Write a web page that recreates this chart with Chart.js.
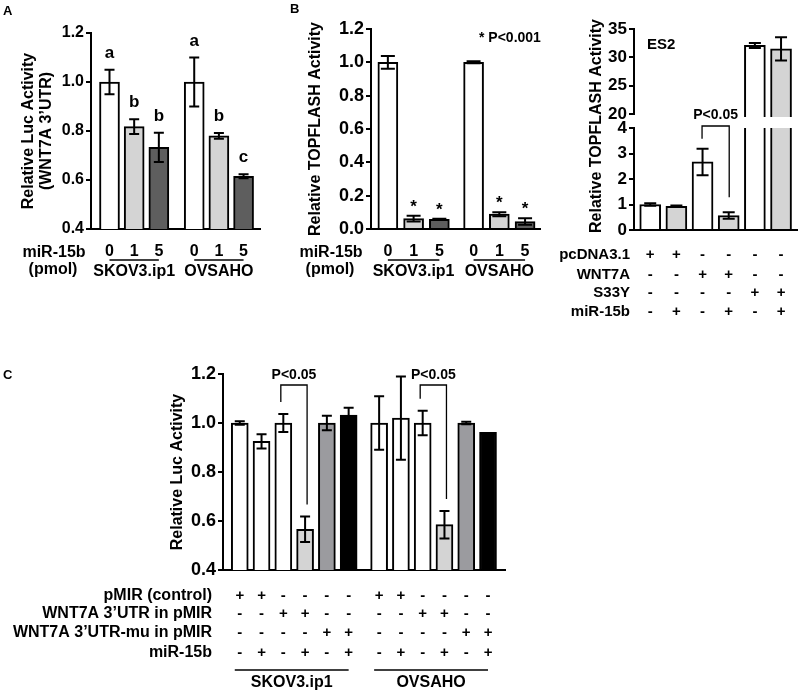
<!DOCTYPE html>
<html>
<head>
<meta charset="utf-8">
<script src="https://cdn.jsdelivr.net/npm/chart.js@4.4.0/dist/chart.umd.min.js"></script>
<style>
  html, body { margin: 0; padding: 0; background: #fff; }
  #fig { position: relative; width: 800px; height: 694px; overflow: hidden; background: #fff; }
  #fig canvas { position: absolute; }
</style>
</head>
<body>
<div id="fig">
  <canvas id="chartA" width="275" height="295" style="left:0;top:0"></canvas>
  <canvas id="chartB" width="280" height="295" style="left:275px;top:0"></canvas>
  <canvas id="chartES2hi" width="245" height="340" style="left:555px;top:0"></canvas>
  <canvas id="chartES2lo" width="245" height="340" style="left:555px;top:0"></canvas>
  <canvas id="chartC" width="520" height="364" style="left:0;top:330px"></canvas>
</div>
<script>
// ---- data ----
const cellLines = ['SKOV3.ip1', 'OVSAHO'];
const doseLabels = ['0', '1', '5'];

// A: WNT7A 3'UTR luciferase
const lucA = [1.0, 0.818, 0.733, 1.0, 0.78, 0.615];
const lucAErr = [0.05, 0.03, 0.06, 0.10, 0.012, 0.008];
const lucALetters = ['a', 'b', 'b', 'a', 'b', 'c'];

// B: TOPFLASH
const topB = [1.0, 0.062, 0.058, 1.0, 0.089, 0.045];
const topBErr = [0.038, 0.017, 0.003, 0.006, 0.012, 0.02];
const topBStars = ['', '*', '*', '', '*', '*'];

// B: ES2
const es2Rows = ['pcDNA3.1', 'WNT7A', 'S33Y', 'miR-15b'];
const es2Signs = [
    ['+', '+', '-', '-', '-', '-'],
    ['-', '-', '+', '+', '-', '-'],
    ['-', '-', '-', '-', '+', '+'],
    ['-', '+', '-', '+', '-', '+']
];
const es2Vals = [1.0, 0.93, 2.67, 0.57, 32.1, 31.5];
const es2Err = [0.05, 0.03, 0.52, 0.13, 0.45, 2.05];

// C: luciferase with wt / mutant 3'UTR
const cRows = ['pMIR (control)', 'WNT7A 3\u2019UTR in pMIR', 'WNT7A 3\u2019UTR-mu in pMIR', 'miR-15b'];
const cSigns = [
    ['+', '+', '-', '-', '-', '-', '+', '+', '-', '-', '-', '-'],
    ['-', '-', '+', '+', '-', '-', '-', '-', '+', '+', '-', '-'],
    ['-', '-', '-', '-', '+', '+', '-', '-', '-', '-', '+', '+'],
    ['-', '+', '-', '+', '-', '+', '-', '+', '-', '+', '-', '+']
];
const lucC = [1.0, 0.925, 1.0, 0.566, 1.0, 1.032, 1.0, 1.02, 1.0, 0.585, 1.0, 0.962];
const lucCErr = [0.007, 0.029, 0.037, 0.052, 0.03, 0.03, 0.109, 0.17, 0.05, 0.056, 0.005, 0];

// ---- styles ----
const FONT = '"Liberation Sans", Arial, Helvetica, sans-serif';
const WHITE = '#ffffff', LIGHT = '#d4d4d4', DARK = '#5e5e5e', MID = '#9b9b9f', BLACK = '#000000';
const colorsAB = [WHITE, LIGHT, DARK, WHITE, LIGHT, DARK];
const colorsES2 = [WHITE, LIGHT, WHITE, LIGHT, WHITE, LIGHT];
const colorsC = [WHITE, WHITE, WHITE, LIGHT, MID, BLACK, WHITE, WHITE, WHITE, LIGHT, MID, BLACK];

// x positions: one slot per bar, extra gap between cell lines
const slotPositions = (n, perGroup, gap) =>
    Array.from({length: n}, (_, i) => i + Math.floor(i / perGroup) * gap);

// ---- drawing helpers ----
const label = (ctx, s, x, y, size, align = 'center', base = 'middle') => {
    ctx.save();
    ctx.font = 'bold ' + size + 'px ' + FONT;
    ctx.fillStyle = '#000';
    ctx.textAlign = align;
    ctx.textBaseline = base;
    ctx.fillText(s, x, y);
    ctx.restore();
};

const vlabel = (ctx, s, x, y, size) => {
    ctx.save();
    ctx.translate(x, y);
    ctx.rotate(-Math.PI / 2);
    label(ctx, s, 0, 0, size);
    ctx.restore();
};

const line = (ctx, pts, w = 1.5) => {
    ctx.save();
    ctx.strokeStyle = '#000';
    ctx.lineWidth = w;
    ctx.beginPath();
    ctx.moveTo(pts[0][0], pts[0][1]);
    pts.slice(1).forEach(p => ctx.lineTo(p[0], p[1]));
    ctx.stroke();
    ctx.restore();
};

const groupLines = (ctx, bars, perGroup, yLine, yText, size, ext) => {
    cellLines.forEach((name, g) => {
        const x0 = bars[g * perGroup].x - ext;
        const x1 = bars[g * perGroup + perGroup - 1].x;
        line(ctx, [[x0, yLine], [x1, yLine]]);
        label(ctx, name, (x0 + x1) / 2, yText, size);
    });
};

const bracket = (ctx, xa, xb, yTop, ya, yb, text, yText) => {
    line(ctx, [[xa, ya], [xa, yTop], [xb, yTop], [xb, yb]], 1.3);
    label(ctx, text, (xa + xb) / 2, yText, 14);
};

const errorBarPlugin = {
    id: 'errorBars',
    afterDatasetsDraw(chart, args, opts) {
        if (!opts.errors) return;
        const {ctx, chartArea: a} = chart;
        const ys = chart.scales.y;
        const ds = chart.data.datasets[0];
        ctx.save();
        ctx.beginPath();
        ctx.rect(a.left - 10, a.top - 3, a.right - a.left + 20, a.bottom - a.top + 6);
        ctx.clip();
        ctx.strokeStyle = '#000';
        ctx.lineWidth = 2;
        chart.getDatasetMeta(0).data.forEach((bar, i) => {
            const e = opts.errors[i];
            if (!e) return;
            const v = ds.data[i].y;
            const top = ys.getPixelForValue(v + e);
            const bot = ys.getPixelForValue(v - e);
            ctx.beginPath();
            ctx.moveTo(bar.x, top); ctx.lineTo(bar.x, bot);
            ctx.moveTo(bar.x - opts.cap, top); ctx.lineTo(bar.x + opts.cap, top);
            ctx.moveTo(bar.x - opts.cap, bot); ctx.lineTo(bar.x + opts.cap, bot);
            ctx.stroke();
        });
        ctx.restore();
    }
};

const makeBars = (id, c) => new Chart(document.getElementById(id), {
    type: 'bar',
    data: {
        datasets: [{
            data: c.values.map((v, i) => ({x: c.pos[i], y: v})),
            backgroundColor: c.colors,
            borderColor: '#000',
            borderWidth: 2,
            barThickness: c.barWidth,
            clip: c.clip
        }]
    },
    options: {
        responsive: false,
        animation: false,
        events: [],
        layout: {padding: c.padding},
        plugins: {
            legend: {display: false},
            tooltip: {enabled: false},
            errorBars: {errors: c.errors, cap: c.cap}
        },
        scales: {
            x: {
                type: 'linear',
                display: c.showX !== false,
                offset: false,
                min: c.xRange[0],
                max: c.xRange[1],
                ticks: {display: false},
                grid: {display: false},
                border: {display: true, color: '#000', width: 2},
                afterFit: (s) => { s.height = 0; }
            },
            y: {
                min: c.yRange[0],
                max: c.yRange[1],
                ticks: {
                    stepSize: c.yStep,
                    color: '#000',
                    padding: 2,
                    font: {family: FONT, weight: 'bold', size: c.tickSize},
                    callback: c.tickFmt || ((v) => v)
                },
                grid: {drawOnChartArea: false, drawTicks: true, tickLength: 5, color: '#000', lineWidth: 2},
                border: {display: true, color: '#000', width: 2},
                afterFit: (s) => { s.width = c.axisX; }
            }
        }
    },
    plugins: [errorBarPlugin, c.marks]
});

// ---- panel A ----
makeBars('chartA', {
    values: lucA, errors: lucAErr, colors: colorsAB, cap: 5, barWidth: 20,
    pos: slotPositions(6, 3, 0.434), xRange: [-0.75, 6.1],
    yRange: [0.4, 1.2], yStep: 0.2, tickSize: 16, tickFmt: (v) => v.toFixed(1),
    axisX: 91, padding: {left: 0, top: 33, right: 15, bottom: 66},
    marks: {
        id: 'marksA',
        afterDraw(chart) {
            const {ctx, chartArea: a} = chart;
            const ys = chart.scales.y;
            const bars = chart.getDatasetMeta(0).data;
            bars.forEach((bar, i) => {
                label(ctx, lucALetters[i], bar.x, ys.getPixelForValue(lucA[i] + lucAErr[i]) - 12, 17, 'center', 'alphabetic');
                label(ctx, doseLabels[i % 3], bar.x, a.bottom + 23, 16);
            });
            groupLines(ctx, bars, 3, a.bottom + 31, a.bottom + 43, 16, 0);
            label(ctx, 'miR-15b', a.left - 37, a.bottom + 24, 16);
            label(ctx, '(pmol)', a.left - 38, a.bottom + 41, 16);
            vlabel(ctx, 'Relative Luc Activity', a.left - 62, (a.top + a.bottom) / 2, 16);
            vlabel(ctx, '(WNT7A 3\u2019UTR)', a.left - 44, (a.top + a.bottom) / 2, 16);
            label(ctx, 'A', 3, 11, 13, 'left');
        }
    }
});

// ---- panel B, left ----
makeBars('chartB', {
    values: topB, errors: topBErr, colors: colorsAB, cap: 7, barWidth: 20,
    pos: slotPositions(6, 3, 0.33), xRange: [-0.655, 5.91],
    yRange: [0, 1.2], yStep: 0.2, tickSize: 18, tickFmt: (v) => v.toFixed(1),
    axisX: 96, padding: {left: 0, top: 29, right: 15, bottom: 66},
    marks: {
        id: 'marksB',
        afterDraw(chart) {
            const {ctx, chartArea: a} = chart;
            const ys = chart.scales.y;
            const bars = chart.getDatasetMeta(0).data;
            bars.forEach((bar, i) => {
                if (topBStars[i]) label(ctx, topBStars[i], bar.x, ys.getPixelForValue(topB[i] + topBErr[i]) - 4, 17, 'center', 'alphabetic');
                label(ctx, doseLabels[i % 3], bar.x, a.bottom + 23, 16);
            });
            groupLines(ctx, bars, 3, a.bottom + 31, a.bottom + 43, 16, 0);
            label(ctx, 'miR-15b', a.left - 40, a.bottom + 24, 16);
            label(ctx, '(pmol)', a.left - 41, a.bottom + 41, 16);
            label(ctx, '* P<0.001', a.left + 108, a.top + 9, 14, 'left');
            vlabel(ctx, 'Relative TOPFLASH Activity', a.left - 55, (a.top + a.bottom) / 2, 16);
            label(ctx, 'B', 15, 9, 13, 'left');
        }
    }
});

// ---- panel B, ES2 (broken axis: upper and lower part) ----
const es2Pos = slotPositions(6, 6, 0);
makeBars('chartES2hi', {
    values: es2Vals, errors: es2Err, colors: colorsES2, cap: 6, barWidth: 21,
    pos: es2Pos, xRange: [-0.62, 5.61], showX: false,
    clip: {left: 5, right: 5, top: 5, bottom: 3},
    yRange: [20, 35], yStep: 5, tickSize: 17,
    axisX: 79, padding: {left: 0, top: 29, right: 3, bottom: 226},
    marks: {
        id: 'marksES2hi',
        afterDraw(chart) {
            const {ctx, chartArea: a} = chart;
            label(ctx, 'ES2', a.left + 13, a.top + 16, 15, 'left');
            vlabel(ctx, 'Relative TOPFLASH Activity', a.left - 37, 126, 16);
        }
    }
});

makeBars('chartES2lo', {
    values: es2Vals, errors: es2Err, colors: colorsES2, cap: 6, barWidth: 21,
    pos: es2Pos, xRange: [-0.62, 5.61],
    clip: {left: 5, right: 5, top: 0, bottom: 5},
    yRange: [0, 4], yStep: 1, tickSize: 17,
    axisX: 79, padding: {left: 0, top: 128, right: 3, bottom: 110},
    marks: {
        id: 'marksES2lo',
        afterDraw(chart) {
            const {ctx, chartArea: a} = chart;
            const ys = chart.scales.y;
            const bars = chart.getDatasetMeta(0).data;
            const rowY = [25, 45, 63, 82];
            es2Rows.forEach((name, r) => {
                label(ctx, name, a.left - 4, a.bottom + rowY[r], 15, 'right');
                es2Signs[r].forEach((s, i) => label(ctx, s, bars[i].x, a.bottom + rowY[r], 15));
            });
            bracket(ctx, bars[2].x - 0.5, bars[3].x + 0.5, a.top - 2,
                ys.getPixelForValue(es2Vals[2] + es2Err[2]) - 10,
                ys.getPixelForValue(es2Vals[3] + es2Err[3]) - 15,
                'P<0.05', a.top - 13);
        }
    }
});

// ---- panel C ----
makeBars('chartC', {
    values: lucC, errors: lucCErr, colors: colorsC, cap: 5, barWidth: 17,
    pos: slotPositions(12, 6, 0.40), xRange: [-0.77, 12.18],
    yRange: [0.4, 1.2], yStep: 0.2, tickSize: 18, tickFmt: (v) => v.toFixed(1),
    axisX: 223, padding: {left: 0, top: 44, right: 15, bottom: 124},
    marks: {
        id: 'marksC',
        afterDraw(chart) {
            const {ctx, chartArea: a} = chart;
            const ys = chart.scales.y;
            const bars = chart.getDatasetMeta(0).data;
            const rowY = [26, 44, 63, 83];
            cRows.forEach((name, r) => {
                label(ctx, name, a.left - 11, a.bottom + rowY[r], 16, 'right');
                cSigns[r].forEach((s, i) => label(ctx, s, bars[i].x, a.bottom + rowY[r], 15));
            });
            groupLines(ctx, bars, 6, a.bottom + 100, a.bottom + 113, 16, 5);
            [2, 8].forEach((i) => {
                bracket(ctx, bars[i].x - 2.5, bars[i + 1].x + 2, a.top + 11,
                    ys.getPixelForValue(lucC[i] + lucCErr[i]) - 12,
                    ys.getPixelForValue(lucC[i + 1] + lucCErr[i + 1]) - 12,
                    'P<0.05', a.top + 1);
            });
            vlabel(ctx, 'Relative Luc Activity', a.left - 45, (a.top + a.bottom) / 2, 16);
            label(ctx, 'C', 3, 45, 13, 'left');
        }
    }
});
</script>
</body>
</html>
